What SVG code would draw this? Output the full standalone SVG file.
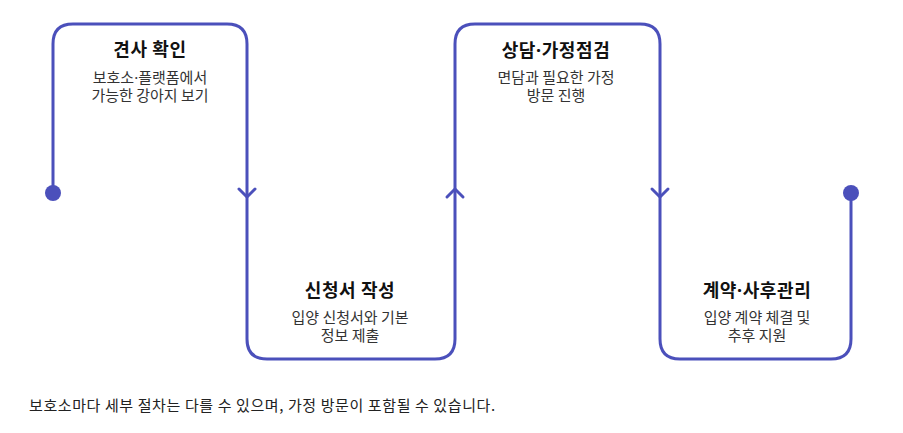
<svg xmlns="http://www.w3.org/2000/svg" width="903" height="433" viewBox="0 0 903 433">
<style>
.flow{fill:none;stroke:#4b50bb;stroke-width:3;stroke-linecap:round;stroke-linejoin:round}
.dot{fill:#4b50bb}
.t{font-family:"Noto Sans CJK KR","Noto Sans",sans-serif;font-weight:700;font-size:18px;letter-spacing:0.6px;fill:#111;text-anchor:middle}
.s{font-family:"Noto Sans CJK KR","Noto Sans",sans-serif;font-size:15px;fill:#333;text-anchor:middle}
.n{font-family:"Noto Sans CJK KR","Noto Sans",sans-serif;font-size:15px;letter-spacing:0.6px;fill:#222}
.md{font-family:"Noto Sans",sans-serif}
</style>
<rect width="903" height="433" fill="#fff"/>
<g id="connectors">
<path class="flow" d="M53,193 V44 Q53,24 73,24 H227 Q247,24 247,44 V339 Q247,359 267,359 H435 Q455,359 455,339 V44 Q455,24 475,24 H640 Q660,24 660,44 V339 Q660,359 680,359 H831 Q851,359 851,339 V193"/>
<path class="flow" d="M239,189 L247,197 L255,189"/>
<path class="flow" d="M447,197 L455,189 L463,197"/>
<path class="flow" d="M652,189 L660,197 L668,189"/>
<circle class="dot" cx="53" cy="193" r="8"/>
<circle class="dot" cx="851" cy="193" r="8"/>
</g>
<g id="step1">
<text class="t" x="150" y="56">견사 확인</text>
<text class="s" x="150" y="82.5">보호소<tspan class="md">·</tspan>플랫폼에서</text>
<text class="s" x="150" y="101">가능한 강아지 보기</text>
</g>
<g id="step2">
<text class="t" x="350" y="297">신청서 작성</text>
<text class="s" x="350" y="323">입양 신청서와 기본</text>
<text class="s" x="350" y="341">정보 제출</text>
</g>
<g id="step3">
<text class="t" x="556" y="56.5">상담<tspan class="md">·</tspan>가정점검</text>
<text class="s" x="556" y="82.5">면담과 필요한 가정</text>
<text class="s" x="556" y="101">방문 진행</text>
</g>
<g id="step4">
<text class="t" x="757" y="297">계약<tspan class="md">·</tspan>사후관리</text>
<text class="s" x="757" y="323">입양 계약 체결 및</text>
<text class="s" x="757" y="341">추후 지원</text>
</g>
<text class="n" x="29" y="411">보호소마다 세부 절차는 다를 수 있으며, 가정 방문이 포함될 수 있습니다.</text>
</svg>
